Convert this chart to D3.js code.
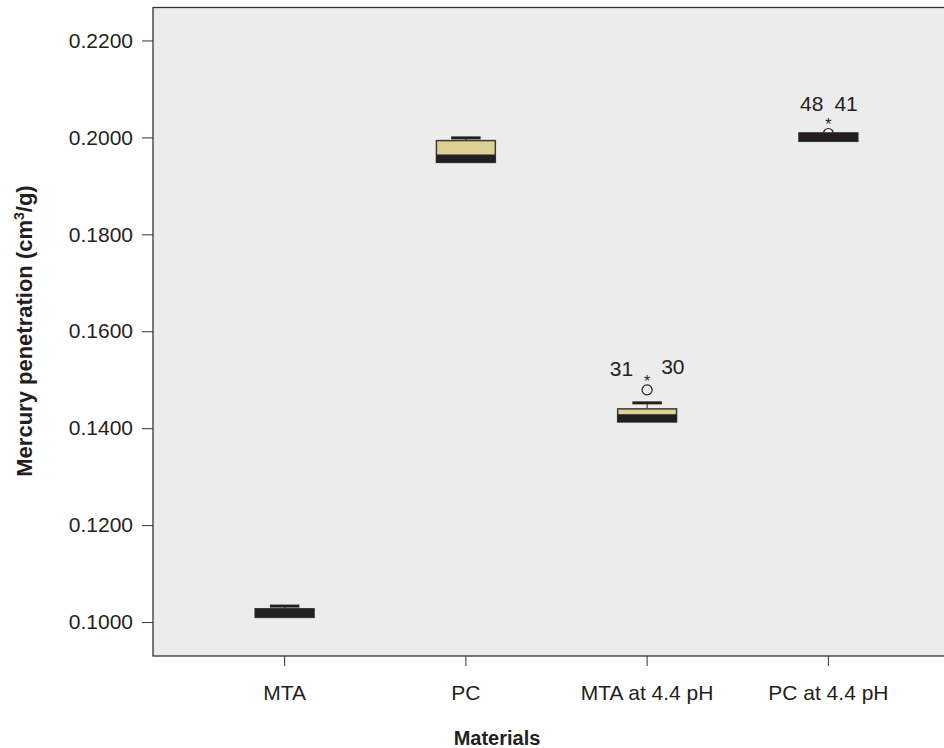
<!DOCTYPE html>
<html>
<head>
<meta charset="utf-8">
<title>Mercury penetration by material</title>
<script src="https://cdn.jsdelivr.net/npm/d3@7"></script>
<style>
  body { margin: 0; background: #fff; }
  svg text { font-family: "Liberation Sans", Arial, sans-serif; fill: #231f20; }
</style>
</head>
<body>
<svg id="svg"></svg>
<script>
// categories and box statistics
var materials = ["MTA", "PC", "MTA at 4.4 pH", "PC at 4.4 pH"];
var whiskerLow  = [0.10097, 0.19484, 0.14131, 0.19919];
var q1          = [0.10097, 0.19484, 0.14131, 0.19919];
var median      = [0.10186, 0.19562, 0.14203, 0.20006];
var q3          = [0.10275, 0.19934, 0.14399, 0.20093];
var whiskerHigh = [0.10330, 0.19990, 0.14523, 0.20093];

// outliers: material index, value, symbol, case label
var outlierGroup  = [2, 2, 3, 3];
var outlierValue  = [0.1479, 0.1502, 0.2008, 0.2031];
var outlierSymbol = ["circle", "star", "circle", "star"];
var outlierLabel  = ["31", "30", "48", "41"];

var yTicks = [0.10, 0.12, 0.14, 0.16, 0.18, 0.20, 0.22];

var width = 944, height = 748;
var frame = {left: 153, top: 7.5, right: 960, bottom: 656};

var svg = d3.select("#svg")
    .attr("width", width)
    .attr("height", height);

var x = d3.scaleBand()
    .domain(materials)
    .range([194, 919]);

var y = d3.scaleLinear()
    .domain([0.093, 0.2268])
    .range([frame.bottom, frame.top]);

var boxW = x.bandwidth() * 0.325;
var capW = boxW * 0.5;
var dark = "#231f20", tan = "#dcd094";

// plot background + frame
svg.append("rect")
    .attr("x", frame.left)
    .attr("y", frame.top)
    .attr("width", frame.right - frame.left)
    .attr("height", frame.bottom - frame.top)
    .attr("fill", "#ececec")
    .attr("stroke", "#333")
    .attr("stroke-width", 1.3);

// y axis
var axisY = d3.axisLeft(y)
    .tickValues(yTicks)
    .tickFormat(d3.format(".4f"))
    .tickSize(11)
    .tickPadding(9);

var gy = svg.append("g")
    .attr("transform", "translate(" + frame.left + ",0)")
    .call(axisY);
gy.select(".domain").remove();
gy.selectAll("line").attr("stroke", "#333");
gy.selectAll("text").style("font-size", "21px").attr("fill", dark);

// x axis
var axisX = d3.axisBottom(x)
    .tickSize(10)
    .tickPadding(19);

var gx = svg.append("g")
    .attr("transform", "translate(0," + frame.bottom + ")")
    .call(axisX);
gx.select(".domain").remove();
gx.selectAll("line").attr("stroke", "#333");
gx.selectAll("text").style("font-size", "21px").attr("fill", dark);

// axis titles
svg.append("text")
    .attr("x", 497)
    .attr("y", 745)
    .style("text-anchor", "middle")
    .style("font-weight", "bold")
    .style("font-size", "20px")
    .text("Materials");

var yt = svg.append("text")
    .attr("transform", "translate(32,331)rotate(-90)")
    .style("text-anchor", "middle")
    .style("font-weight", "bold")
    .style("font-size", "22px");
yt.append("tspan").text("Mercury penetration (cm");
yt.append("tspan").attr("baseline-shift", "super").style("font-size", "14px").text("3");
yt.append("tspan").text("/g)");

var body = svg.append("g");

// outlier circles go under the boxes
var outliers = d3.range(outlierValue.length).map(function(i) {
    return {cx: x(materials[outlierGroup[i]]) + x.bandwidth() / 2,
            cy: y(outlierValue[i]), sym: outlierSymbol[i], label: outlierLabel[i]};
});

body.selectAll("circle.out")
    .data(outliers.filter(function(d) { return d.sym == "circle"; }))
    .enter().append("circle")
    .attr("class", "out")
    .attr("cx", function(d) { return d.cx; })
    .attr("cy", function(d) { return d.cy; })
    .attr("r", 5)
    .attr("fill", "none")
    .attr("stroke", dark)
    .attr("stroke-width", 1.2);

var boxes = body.selectAll("g.box")
    .data(materials)
    .enter().append("g")
    .attr("class", "box")
    .attr("transform", function(d) { return "translate(" + (x(d) + x.bandwidth() / 2) + ",0)"; });

// whisker stems
boxes.append("line")
    .attr("x1", 0).attr("x2", 0)
    .attr("y1", function(d, i) { return y(whiskerHigh[i]); })
    .attr("y2", function(d, i) { return y(q3[i]); })
    .attr("stroke", dark);
boxes.append("line")
    .attr("x1", 0).attr("x2", 0)
    .attr("y1", function(d, i) { return y(whiskerLow[i]); })
    .attr("y2", function(d, i) { return y(q1[i]); })
    .attr("stroke", dark);

// caps (only where whisker sticks out)
boxes.filter(function(d, i) { return whiskerHigh[i] > q3[i]; })
    .append("line")
    .attr("x1", -capW / 2).attr("x2", capW / 2)
    .attr("y1", function(d) { return y(whiskerHigh[materials.indexOf(d)]); })
    .attr("y2", function(d) { return y(whiskerHigh[materials.indexOf(d)]); })
    .attr("stroke", dark)
    .attr("stroke-width", 3);

boxes.append("rect")
    .attr("x", -boxW / 2)
    .attr("width", boxW)
    .attr("y", function(d, i) { return y(q3[i]); })
    .attr("height", function(d, i) { return y(q1[i]) - y(q3[i]); })
    .attr("fill", tan)
    .attr("stroke", "#3a3a3a")
    .attr("stroke-width", 1.5);

// thick median band
boxes.append("line")
    .attr("x1", -boxW / 2).attr("x2", boxW / 2)
    .attr("y1", function(d, i) { return y(median[i]); })
    .attr("y2", function(d, i) { return y(median[i]); })
    .attr("stroke", dark)
    .attr("stroke-width", 8);

// extreme values as asterisks
body.selectAll("text.star")
    .data(outliers.filter(function(d) { return d.sym == "star"; }))
    .enter().append("text")
    .attr("class", "star")
    .attr("x", function(d) { return d.cx; })
    .attr("y", function(d) { return d.cy + 8; })
    .style("text-anchor", "middle")
    .style("font-size", "16px")
    .text("*");

// case labels: first label of a pair sits left, second right
var labelPlace = {"31": [-14, -3, "end"], "30": [14, -5, "start"],
                  "48": [-5, -11, "end"], "41": [6, -11, "start"]};
var starY = {};
outliers.forEach(function(d) { if (d.sym == "star") starY[d.cx] = d.cy; });

body.selectAll("text.lab")
    .data(outliers)
    .enter().append("text")
    .attr("class", "lab")
    .attr("x", function(d) { return d.cx + labelPlace[d.label][0]; })
    .attr("y", function(d) { return starY[d.cx] + labelPlace[d.label][1]; })
    .style("text-anchor", function(d) { return labelPlace[d.label][2]; })
    .style("font-size", "21px")
    .text(function(d) { return d.label; });
</script>
</body>
</html>
